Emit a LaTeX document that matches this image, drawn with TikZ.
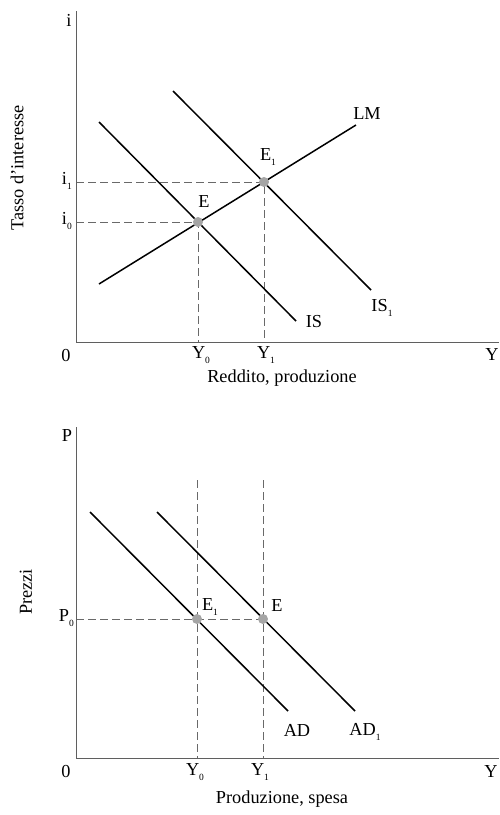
\documentclass[tikz,border=0pt]{standalone}
\usepackage{fontspec}
\setmainfont{Liberation Serif}
\usepackage{tikz}
\usetikzlibrary{positioning,calc}
\usepackage{xcolor}
\definecolor{axisgray}{RGB}{95,95,95}
\definecolor{guidegray}{RGB}{105,105,105}
\definecolor{pointgray}{RGB}{165,165,165}
\newcommand{\lowsub}[1]{\raisebox{-5pt}{\fontsize{9.5}{10}\selectfont #1}}

\begin{document}
\begin{tikzpicture}[
  x=1pt,y=-1pt,
  axisline/.style={draw=axisgray,line width=0.9pt},
  curve/.style={draw=black,line width=1.5pt},
  guide/.style={draw=guidegray,line width=0.9pt,dash pattern=on 7.5pt off 4.5pt},
  eqpt/.style={circle,fill=pointgray,inner sep=0pt,minimum size=10pt},
  lbl/.style={font=\fontsize{18.3}{21}\selectfont,inner sep=0pt}
]
\useasboundingbox (0,0) rectangle (499,815);

% TOP: IS-LM diagram
\coordinate (topI) at (76,11);
\coordinate (O1) at (76,342);
\coordinate (endY1) at (499,342);
\coordinate (i1tick) at (76,182);
\coordinate (i0tick) at (76,222);
\coordinate (Y0tick) at (198,342);
\coordinate (Y1tick) at (264,342);
\coordinate (E) at (198,222);
\coordinate (E1) at (264,182);
\coordinate (LMa) at (99,284);
\coordinate (LMb) at (356,125);
\coordinate (ISa) at (99,122);
\coordinate (ISb) at (296,321);
\coordinate (IS1a) at (173,91);
\coordinate (IS1b) at (371,290);

\draw[guide] (i0tick) -- (E) -- (Y0tick);
\draw[guide] (i1tick) -- (E1) -- (Y1tick);
\draw[axisline] (topI) -- (O1) -- (endY1);
\draw[curve] (LMa) -- (LMb);
\draw[curve] (ISa) -- (ISb);
\draw[curve] (IS1a) -- (IS1b);
\node[eqpt] (Edot) at (E) {};
\node[eqpt] (E1dot) at (E1) {};

\node[lbl] (ilbl) at (69,20) {i};
\node[lbl] (zero1) at (66,355) {0};
\node[lbl,anchor=east] (i1lbl) at (72,181) {i\lowsub{1}};
\node[lbl,anchor=east] (i0lbl) at (72,221) {i\lowsub{0}};
\node[lbl] (Elbl) at (204,202) {E};
\node[lbl] (E1lbl) at (268,157) {E\lowsub{1}};
\node[lbl] (LMlbl) at (367,114) {LM};
\node[lbl] (ISlbl) at (314,322) {IS};
\node[lbl] (IS1lbl) at (382,308) {IS\lowsub{1}};
\node[lbl] (Y0top) at (201,355) {Y\lowsub{0}};
\node[lbl] (Y1top) at (266,355) {Y\lowsub{1}};
\node[lbl] (Ytop) at (492,355) {Y};
\node[lbl,rotate=90] (tasso) at (17,168) {Tasso d'interesse};
\node[lbl] (reddito) at (282,378) {Reddito, produzione};

% BOTTOM: AD diagram
\coordinate (topP) at (76,427);
\coordinate (O2) at (76,758);
\coordinate (endY2) at (499,758);
\coordinate (P0tick) at (76,619);
\coordinate (Y0up) at (197,480);
\coordinate (Y1up) at (263,480);
\coordinate (Y0bot) at (197,758);
\coordinate (Y1bot) at (263,758);
\coordinate (F1) at (197,619);
\coordinate (F) at (263,619);
\coordinate (ADa) at (90,512);
\coordinate (ADb) at (288,711);
\coordinate (AD1a) at (157,512);
\coordinate (AD1b) at (355,711);

\draw[guide] (Y0up) -- (Y0bot);
\draw[guide] (Y1up) -- (Y1bot);
\draw[guide] (P0tick) -- (F);
\draw[axisline] (topP) -- (O2) -- (endY2);
\draw[curve] (ADa) -- (ADb);
\draw[curve] (AD1a) -- (AD1b);
\node[eqpt] (F1dot) at (F1) {};
\node[eqpt] (Fdot) at (F) {};

\node[lbl] (Plbl) at (67,436) {P};
\node[lbl] (zero2) at (66,771) {0};
\node[lbl,anchor=east] (P0lbl) at (74,618) {P\lowsub{0}};
\node[lbl] (F1lbl) at (210,607) {E\lowsub{1}};
\node[lbl] (Flbl) at (277,605) {E};
\node[lbl] (ADlbl) at (297,730) {AD};
\node[lbl] (AD1lbl) at (365,732) {AD\lowsub{1}};
\node[lbl] (Y0low) at (195,772) {Y\lowsub{0}};
\node[lbl] (Y1low) at (260,772) {Y\lowsub{1}};
\node[lbl] (Ylow) at (491,771) {Y};
\node[lbl,rotate=90] (prezzi) at (26,592) {Prezzi};
\node[lbl] (produzione) at (282,799) {Produzione, spesa};
\end{tikzpicture}
\end{document}
